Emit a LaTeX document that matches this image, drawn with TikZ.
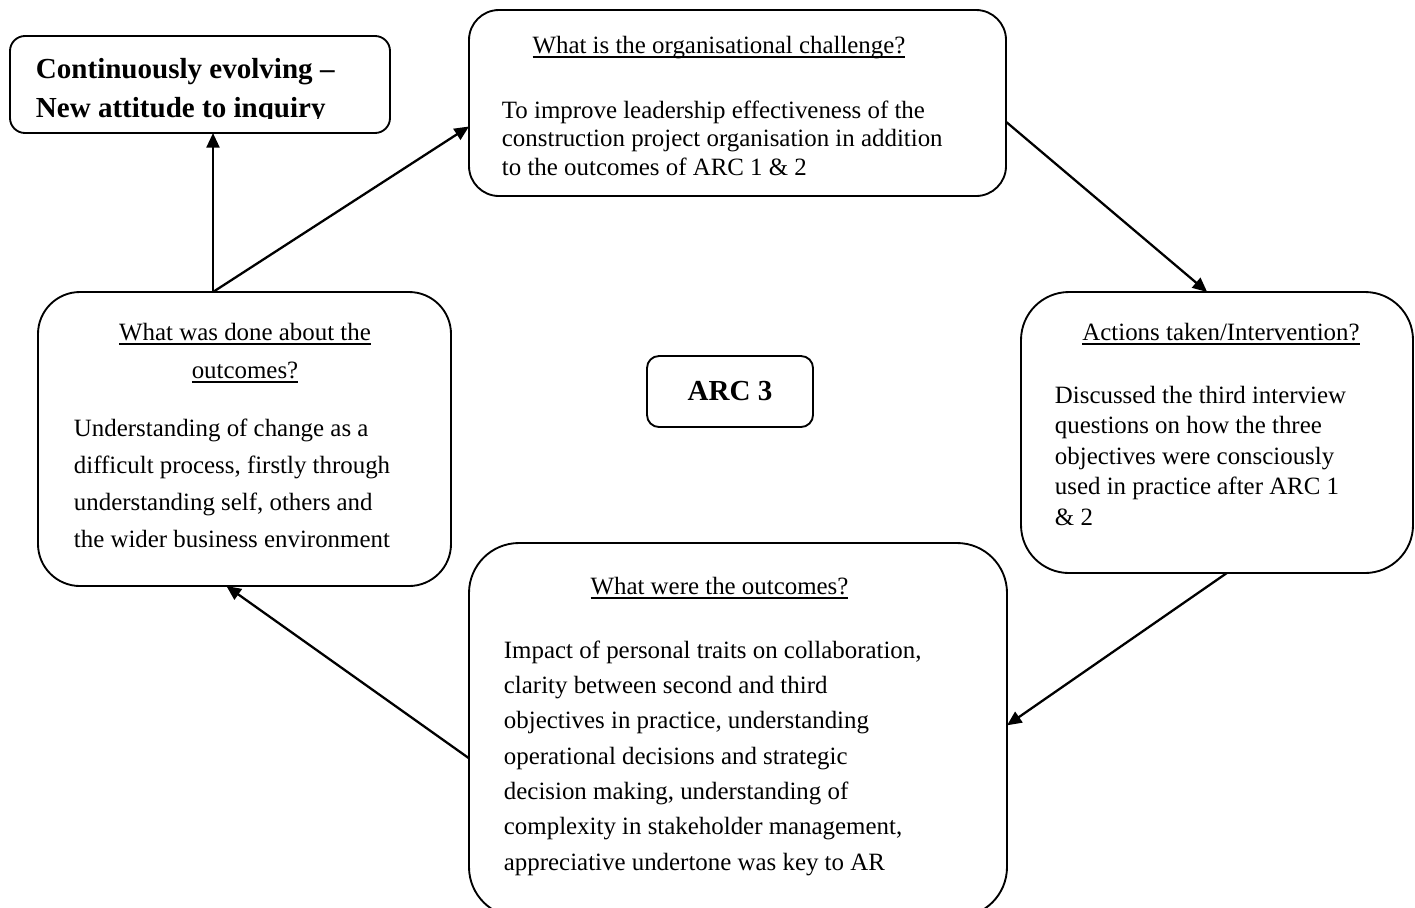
\documentclass[tikz,border=0pt]{standalone}
\usepackage{fontspec}
\setmainfont{Liberation Serif}
\usetikzlibrary{arrows.meta}
\newdimen\pxu \pxu=0.482pt
\newcommand\undertext[1]{\setbox0\hbox{#1}\rlap{\rule[-2.2pt]{\wd0}{0.8pt}}\box0}

\begin{document}
\begin{tikzpicture}[x=0.482pt,y=-0.482pt,line width=0.9pt,
  box/.style={shape=rectangle,draw,outer sep=0pt,inner sep=0pt},
  head/.style={anchor=base,align=center,inner sep=0pt,font=\fontsize{12pt}{#1}\selectfont},
  head/.default=14pt,
  body/.style={anchor=base west,align=left,inner sep=0pt,font=\fontsize{12pt}{#1}\selectfont},
  link/.style={line width=1.1pt,-{Triangle[length=7pt,width=6.2pt]}}]
\clip (0,0) rectangle (1415,907);
% boxes
\node(evolve)[box,rounded corners=15\pxu,minimum width=380\pxu,minimum height=97\pxu] at (200,84.5){};
\node(challenge)[box,rounded corners=30\pxu,minimum width=537\pxu,minimum height=186\pxu] at (737.5,103){};
\node(action)[box,rounded corners=48\pxu,minimum width=392\pxu,minimum height=281\pxu] at (1217,432.5){};
\node(done)[box,rounded corners=42\pxu,minimum width=413\pxu,minimum height=294\pxu] at (244.5,439){};
\node(outcome)[box,rounded corners=50\pxu,minimum width=538\pxu,minimum height=374\pxu] at (738,730){};
\node(arc)[box,rounded corners=12\pxu,minimum width=166\pxu,minimum height=71\pxu,font=\fontsize{14pt}{17pt}\selectfont\bfseries] at (730,391.5){ARC 3};
% texts (anchored at the baseline of the last line)
\begin{scope}
\clip (0,0) rectangle (1415,118);
\node(evolvetext)[anchor=base west,align=left,inner sep=0pt,font=\fontsize{14pt}{18.8pt}\selectfont\bfseries] at (35,117){Continuously evolving --\\New attitude to inquiry};
\end{scope}
\node(challengehead)[head] at (719,53){\undertext{What is the organisational challenge?}};
\node(challengebody)[body=13.7pt] at (501,175){To improve leadership effectiveness of the\\construction project organisation in addition\\to the outcomes of ARC 1 \& 2};
\node(actionhead)[head] at (1221,340){\undertext{Actions taken/Intervention?}};
\node(actionbody)[body=14.7pt] at (1054,525){Discussed the third interview\\questions on how the three\\objectives were consciously\\used in practice after ARC 1\\\& 2};
\node(donehead)[head=18.3pt] at (245,378){\undertext{What was done about the}\\\undertext{outcomes?}};
\node(donebody)[body=17.7pt] at (73,547){Understanding of change as a\\difficult process, firstly through\\understanding self, others and\\the wider business environment};
\node(outcomehead)[head] at (719.5,594){\undertext{What were the outcomes?}};
\node(outcomebody)[body=17pt] at (503,870){Impact of personal traits on collaboration,\\clarity between second and third\\objectives in practice, understanding\\operational decisions and strategic\\decision making, understanding of\\complexity in stakeholder management,\\appreciative undertone was key to AR};
% arrows
\coordinate(fork) at (213,292);
\draw[link] (fork)--(fork |- evolve.south);
\draw[link] (fork)--(challenge.185);
\draw[link] (challenge.-4)--(action.94);
\draw[link] (action.-86)--(outcome.1);
\draw[link] (outcome.186)--(done.263);
\end{tikzpicture}
\end{document}
